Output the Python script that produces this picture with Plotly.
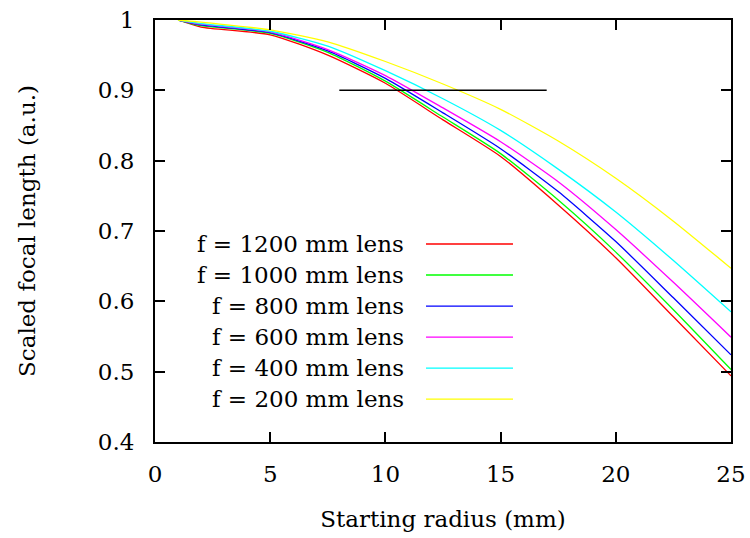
import plotly.graph_objects as go

# ---- data ----
radius = [1, 2, 5, 7.5, 10, 12.5, 15, 17.5, 20, 22.5, 25]
f1200 = [1.000, 0.990, 0.979, 0.950, 0.910, 0.858, 0.806, 0.737, 0.662, 0.578, 0.494]
f1000 = [1.000, 0.992, 0.981, 0.954, 0.913, 0.862, 0.810, 0.744, 0.670, 0.588, 0.503]
f800 = [1.000, 0.993, 0.982, 0.956, 0.917, 0.868, 0.817, 0.756, 0.685, 0.605, 0.524]
f600 = [1.000, 0.994, 0.983, 0.958, 0.921, 0.875, 0.827, 0.770, 0.702, 0.627, 0.549]
f400 = [1.000, 0.995, 0.984, 0.963, 0.928, 0.888, 0.843, 0.788, 0.727, 0.658, 0.585]
f200 = [1.000, 0.997, 0.986, 0.969, 0.941, 0.909, 0.873, 0.828, 0.775, 0.714, 0.647]

series_names = ["f = 1200 mm lens", "f = 1000 mm lens", "f = 800 mm lens",
                "f = 600 mm lens", "f = 400 mm lens", "f = 200 mm lens"]
series_values = [f1200, f1000, f800, f600, f400, f200]
series_colors = ["#ff0000", "#00ff00", "#0000ff", "#ff00ff", "#00ffff", "#ffff00"]

ref_x = [8, 17]
ref_y = [0.9, 0.9]

x_ticks = [0, 5, 10, 15, 20, 25]
y_ticks = [0.4, 0.5, 0.6, 0.7, 0.8, 0.9, 1.0]
y_tick_text = ["0.4", "0.5", "0.6", "0.7", "0.8", "0.9", "1"]

FONT = "DejaVu Serif, Liberation Serif, serif"
FS = 23

fig = go.Figure()
for name, vals, col in zip(series_names, series_values, series_colors):
    fig.add_trace(go.Scatter(x=radius, y=vals, mode="lines", name=name,
                             line=dict(color=col, width=1.3, shape="spline", smoothing=0.6),
                             showlegend=False))

fig.add_trace(go.Scatter(x=ref_x, y=ref_y, mode="lines", showlegend=False,
                         line=dict(color="black", width=1.5)))

# gnuplot-style key: right-aligned text followed by a sample line
row0 = 0.4692
drow = 0.0735
for i, (name, col) in enumerate(zip(series_names, series_colors)):
    yy = row0 - i * drow
    fig.add_annotation(x=0.4358, y=yy, xref="paper", yref="paper", text=name,
                       showarrow=False, xanchor="right", yanchor="middle",
                       font=dict(family=FONT, size=FS, color="black"))
    fig.add_shape(type="line", xref="paper", yref="paper",
                  x0=0.4705, x1=0.6215, y0=yy, y1=yy,
                  line=dict(color=col, width=1.3))

fig.update_layout(
    width=750, height=538,
    margin=dict(l=155, r=19, t=20, b=96, autoexpand=False),
    paper_bgcolor="white", plot_bgcolor="white",
    font=dict(family=FONT, size=FS, color="black"),
    xaxis=dict(range=[0, 25], tickvals=x_ticks, ticks="inside", ticklen=10,
               tickwidth=2, tickcolor="black", showline=True, linecolor="black",
               linewidth=2, mirror="ticks", showgrid=False, zeroline=False,
               automargin=False,
               title=dict(text="Starting radius (mm)", standoff=25,
                          font=dict(family=FONT, size=FS)),
               ticklabelstandoff=10, tickfont=dict(family=FONT, size=FS)),
    yaxis=dict(range=[0.4, 1.0], tickvals=y_ticks, ticktext=y_tick_text,
               ticks="inside", ticklen=10, tickwidth=2, tickcolor="black",
               showline=True, linecolor="black", linewidth=2, mirror="ticks",
               showgrid=False, zeroline=False, automargin=False,
               title=dict(text="Scaled focal length (a.u.)", standoff=56,
                          font=dict(family=FONT, size=FS)),
               ticklabelstandoff=14, tickfont=dict(family=FONT, size=FS)),
)

fig.write_html("out.html")
